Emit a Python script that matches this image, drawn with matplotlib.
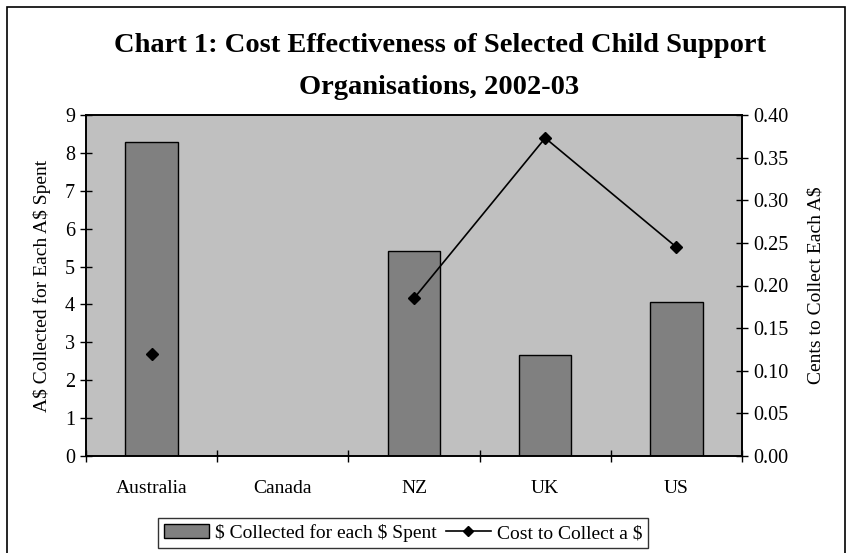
import matplotlib
matplotlib.use("Agg")
import matplotlib.pyplot as plt
from matplotlib.patches import Rectangle
import numpy as np

# ── Dados ────────────────────────────────────────────────
countries = ["Australia", "Canada", "NZ", "UK", "US"]
collected = [8.28, np.nan, 5.41, 2.67, 4.06]      # A$ recolhidos por A$ gasto
cost = [0.12, np.nan, 0.185, 0.373, 0.245]        # custo para recolher A$1

left_ticks = list(range(0, 10))
right_ticks = [0.00, 0.05, 0.10, 0.15, 0.20, 0.25, 0.30, 0.35, 0.40]

plt.rcParams["font.family"] = ["Liberation Serif", "DejaVu Serif"]
plt.rcParams["text.parse_math"] = False

W, H = 850, 553
fig = plt.figure(figsize=(W / 100, H / 100), dpi=100, facecolor="white")

# borda exterior do gráfico
fig.patches.append(Rectangle((7 / W, -0.05), (845 - 7) / W, 1 - 7 / H + 0.05,
                             transform=fig.transFigure, fill=False,
                             edgecolor="black", linewidth=1.2))

x0, x1, y0, y1 = 86, 742, 115, 456
ax = fig.add_axes([x0 / W, 1 - y1 / H, (x1 - x0) / W, (y1 - y0) / H])
ax.set_facecolor("#C0C0C0")

x = np.arange(len(countries))
ax.bar(x, collected, width=0.4, color="#808080", edgecolor="black",
       linewidth=1.0, label="$ Collected for each $ Spent", zorder=2)

ax.set_xlim(-0.5, len(countries) - 0.5)
ax.set_ylim(0, 9)
ax.set_yticks(left_ticks)
ax.set_xticks(np.arange(-0.5, len(countries) + 0.5, 1.0))
ax.set_xticklabels([])
ax.set_xticks(x, minor=True)
ax.set_xticklabels(countries, minor=True, fontsize=14)
ax.tick_params(axis="x", which="minor", length=0, pad=17)
ax.tick_params(axis="x", which="major", direction="inout", length=9, width=1)
ax.tick_params(axis="y", direction="inout", length=9, width=1, labelsize=14.5)
ax.set_ylabel("A$ Collected for Each A$ Spent", fontsize=14, labelpad=10)
for s in ax.spines.values():
    s.set_color("black")
    s.set_linewidth(1.2)

ax2 = ax.twinx()
ax2.plot(x, cost, color="black", linewidth=1.2, marker="D", markersize=6,
         label="Cost to Collect a $", zorder=3)
ax2.set_ylim(0, 0.40)
ax2.set_yticks(right_ticks)
ax2.set_yticklabels([f"{v:.2f}" for v in right_ticks])
ax2.tick_params(axis="y", direction="inout", length=9, width=1, labelsize=14.5)
ax2.set_ylabel("Cents to Collect Each A$", fontsize=14, labelpad=14)
for s in ax2.spines.values():
    s.set_color("black")
    s.set_linewidth(1.2)

tx = 0.5 * (x0 + x1) / W + 0.03
fig.text(tx, 1 - 45 / H,
         "Chart 1: Cost Effectiveness of Selected Child Support",
         ha="center", va="center", fontsize=20.5, fontweight="bold")
fig.text(tx, 1 - 87 / H, "Organisations, 2002-03",
         ha="center", va="center", fontsize=20.5, fontweight="bold")

h1, l1 = ax.get_legend_handles_labels()
h2, l2 = ax2.get_legend_handles_labels()
leg = fig.legend(h1 + h2, l1 + l2, loc="center", ncol=2,
                 bbox_to_anchor=(403 / W, 1 - 533 / H), fontsize=14,
                 frameon=True, fancybox=False, edgecolor="black",
                 handlelength=2.3, handletextpad=0.3, columnspacing=0.5,
                 borderpad=0.3, borderaxespad=0, markerscale=0.8)
leg.get_frame().set_linewidth(1.0)

fig.savefig("out.png", dpi=100, facecolor="white")
